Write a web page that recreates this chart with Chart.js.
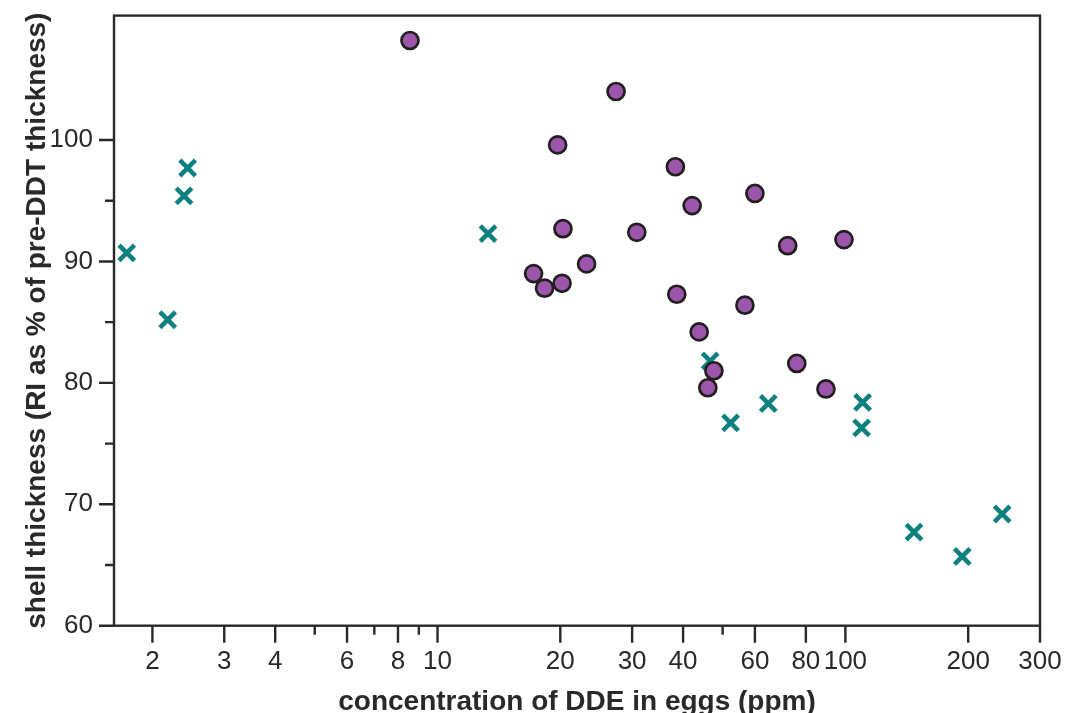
<!DOCTYPE html>
<html>
<head>
<meta charset="utf-8">
<script src="https://cdn.jsdelivr.net/npm/chart.js@4.4.1/dist/chart.umd.min.js"></script>
<style>
    html, body { margin: 0; padding: 0; background: #fff; }
    #wrap { width: 1067px; height: 713px; position: relative; }
</style>
</head>
<body>
<div id="wrap"><canvas id="chart"></canvas></div>
<script>
// DDE concentration (ppm) vs shell thickness (% of pre-DDT)
const dotsX = [8.56, 27.4, 19.7, 38.3, 60.0, 42.1, 20.3, 30.8, 99.2, 72.2, 23.2, 17.2, 18.3, 20.2, 38.6, 56.7, 43.8, 47.6, 76.0, 46.0, 89.6];
const dotsY = [108.2, 104.0, 99.6, 97.8, 95.6, 94.6, 92.7, 92.4, 91.8, 91.3, 89.8, 89.0, 87.8, 88.2, 87.3, 86.4, 84.2, 81.0, 81.6, 79.6, 79.5];

const crossX = [1.73, 2.18, 2.39, 2.44, 13.3, 46.6, 52.3, 64.7, 110.2, 109.6, 147.3, 193.4, 242.3];
const crossY = [90.7, 85.2, 95.4, 97.7, 92.3, 81.8, 76.7, 78.3, 78.4, 76.3, 67.7, 65.7, 69.2];

// Axis ticks
const xMajorTicks = [2, 3, 4, 6, 8, 10, 20, 30, 40, 60, 80, 100, 200, 300];
const xMinorTicks = [5, 7, 9, 50];
const yMajorTicks = [60, 70, 80, 90, 100];
const yMinorTicks = [65, 75, 85, 95];

const FONT = "'Liberation Sans', Arial, Helvetica, sans-serif";
const INK = '#2b2829';

const toPoints = (xs, ys) => xs.map((x, i) => ({ x, y: ys[i] }));

// frame + tick marks (major long, minor short)
const framePlugin = {
    id: 'frame',
    beforeDatasetsDraw(chart) {
        const { ctx, chartArea: a, scales } = chart;
        ctx.save();
        ctx.strokeStyle = INK;
        ctx.lineWidth = 2.4;
        ctx.strokeRect(a.left, a.top, a.right - a.left, a.bottom - a.top);
        ctx.beginPath();
        xMajorTicks.forEach(v => {
            const px = scales.x.getPixelForValue(v);
            ctx.moveTo(px, a.bottom); ctx.lineTo(px, a.bottom + 17);
        });
        xMinorTicks.forEach(v => {
            const px = scales.x.getPixelForValue(v);
            ctx.moveTo(px, a.bottom); ctx.lineTo(px, a.bottom + 9);
        });
        yMajorTicks.forEach(v => {
            const py = scales.y.getPixelForValue(v);
            ctx.moveTo(a.left, py); ctx.lineTo(a.left - 15, py);
        });
        yMinorTicks.forEach(v => {
            const py = scales.y.getPixelForValue(v);
            ctx.moveTo(a.left, py); ctx.lineTo(a.left - 9, py);
        });
        ctx.stroke();
        ctx.restore();
    }
};

new Chart(document.getElementById('chart'), {
    type: 'scatter',
    data: {
        datasets: [
            {
                label: 'circles',
                data: toPoints(dotsX, dotsY),
                pointStyle: 'circle',
                pointRadius: 8.5,
                pointHoverRadius: 8.5,
                backgroundColor: '#9b55ab',
                borderColor: '#231f20',
                borderWidth: 2.7,
            },
            {
                label: 'crosses',
                data: toPoints(crossX, crossY),
                pointStyle: 'crossRot',
                pointRadius: 11,
                pointHoverRadius: 11,
                borderColor: '#0f8080',
                backgroundColor: '#0f8080',
                borderWidth: 4.6,
            }
        ]
    },
    options: {
        responsive: true,
        maintainAspectRatio: false,
        animation: false,
        layout: { padding: { top: 12.7, right: 27, left: 0, bottom: 0 } },
        plugins: { legend: { display: false }, tooltip: { enabled: false } },
        scales: {
            x: {
                type: 'logarithmic',
                min: 1.61,
                max: 300,
                grid: { display: false, drawTicks: false },
                border: { display: false },
                afterBuildTicks: s => { s.ticks = xMajorTicks.map(v => ({ value: v })); },
                afterFit: s => { s.height = 87.3; s.paddingLeft = 0; s.paddingRight = 0; },
                ticks: {
                    autoSkip: false, maxRotation: 0, minRotation: 0,
                    padding: 21,
                    color: INK,
                    font: { family: FONT, size: 26 },
                    callback: v => String(v)
                },
                title: {
                    display: true,
                    text: 'concentration of DDE in eggs (ppm)',
                    color: INK,
                    font: { family: FONT, size: 28, weight: 'bold', lineHeight: 1 },
                    padding: { top: 0, bottom: -3 }
                }
            },
            y: {
                min: 60,
                max: 110.25,
                grid: { display: false, drawTicks: false },
                border: { display: false },
                afterBuildTicks: s => { s.ticks = yMajorTicks.map(v => ({ value: v })); },
                afterFit: s => { s.width = 114; s.paddingTop = 0; s.paddingBottom = 0; },
                ticks: {
                    padding: 21,
                    color: INK,
                    font: { family: FONT, size: 26 },
                    callback: v => String(v)
                },
                title: {
                    display: true,
                    text: 'shell thickness (RI as % of pre-DDT thickness)',
                    color: INK,
                    font: { family: FONT, size: 28, weight: 'bold', lineHeight: 1 },
                    padding: { top: 23, bottom: 0 }
                }
            }
        }
    },
    plugins: [framePlugin]
});
</script>
</body>
</html>
